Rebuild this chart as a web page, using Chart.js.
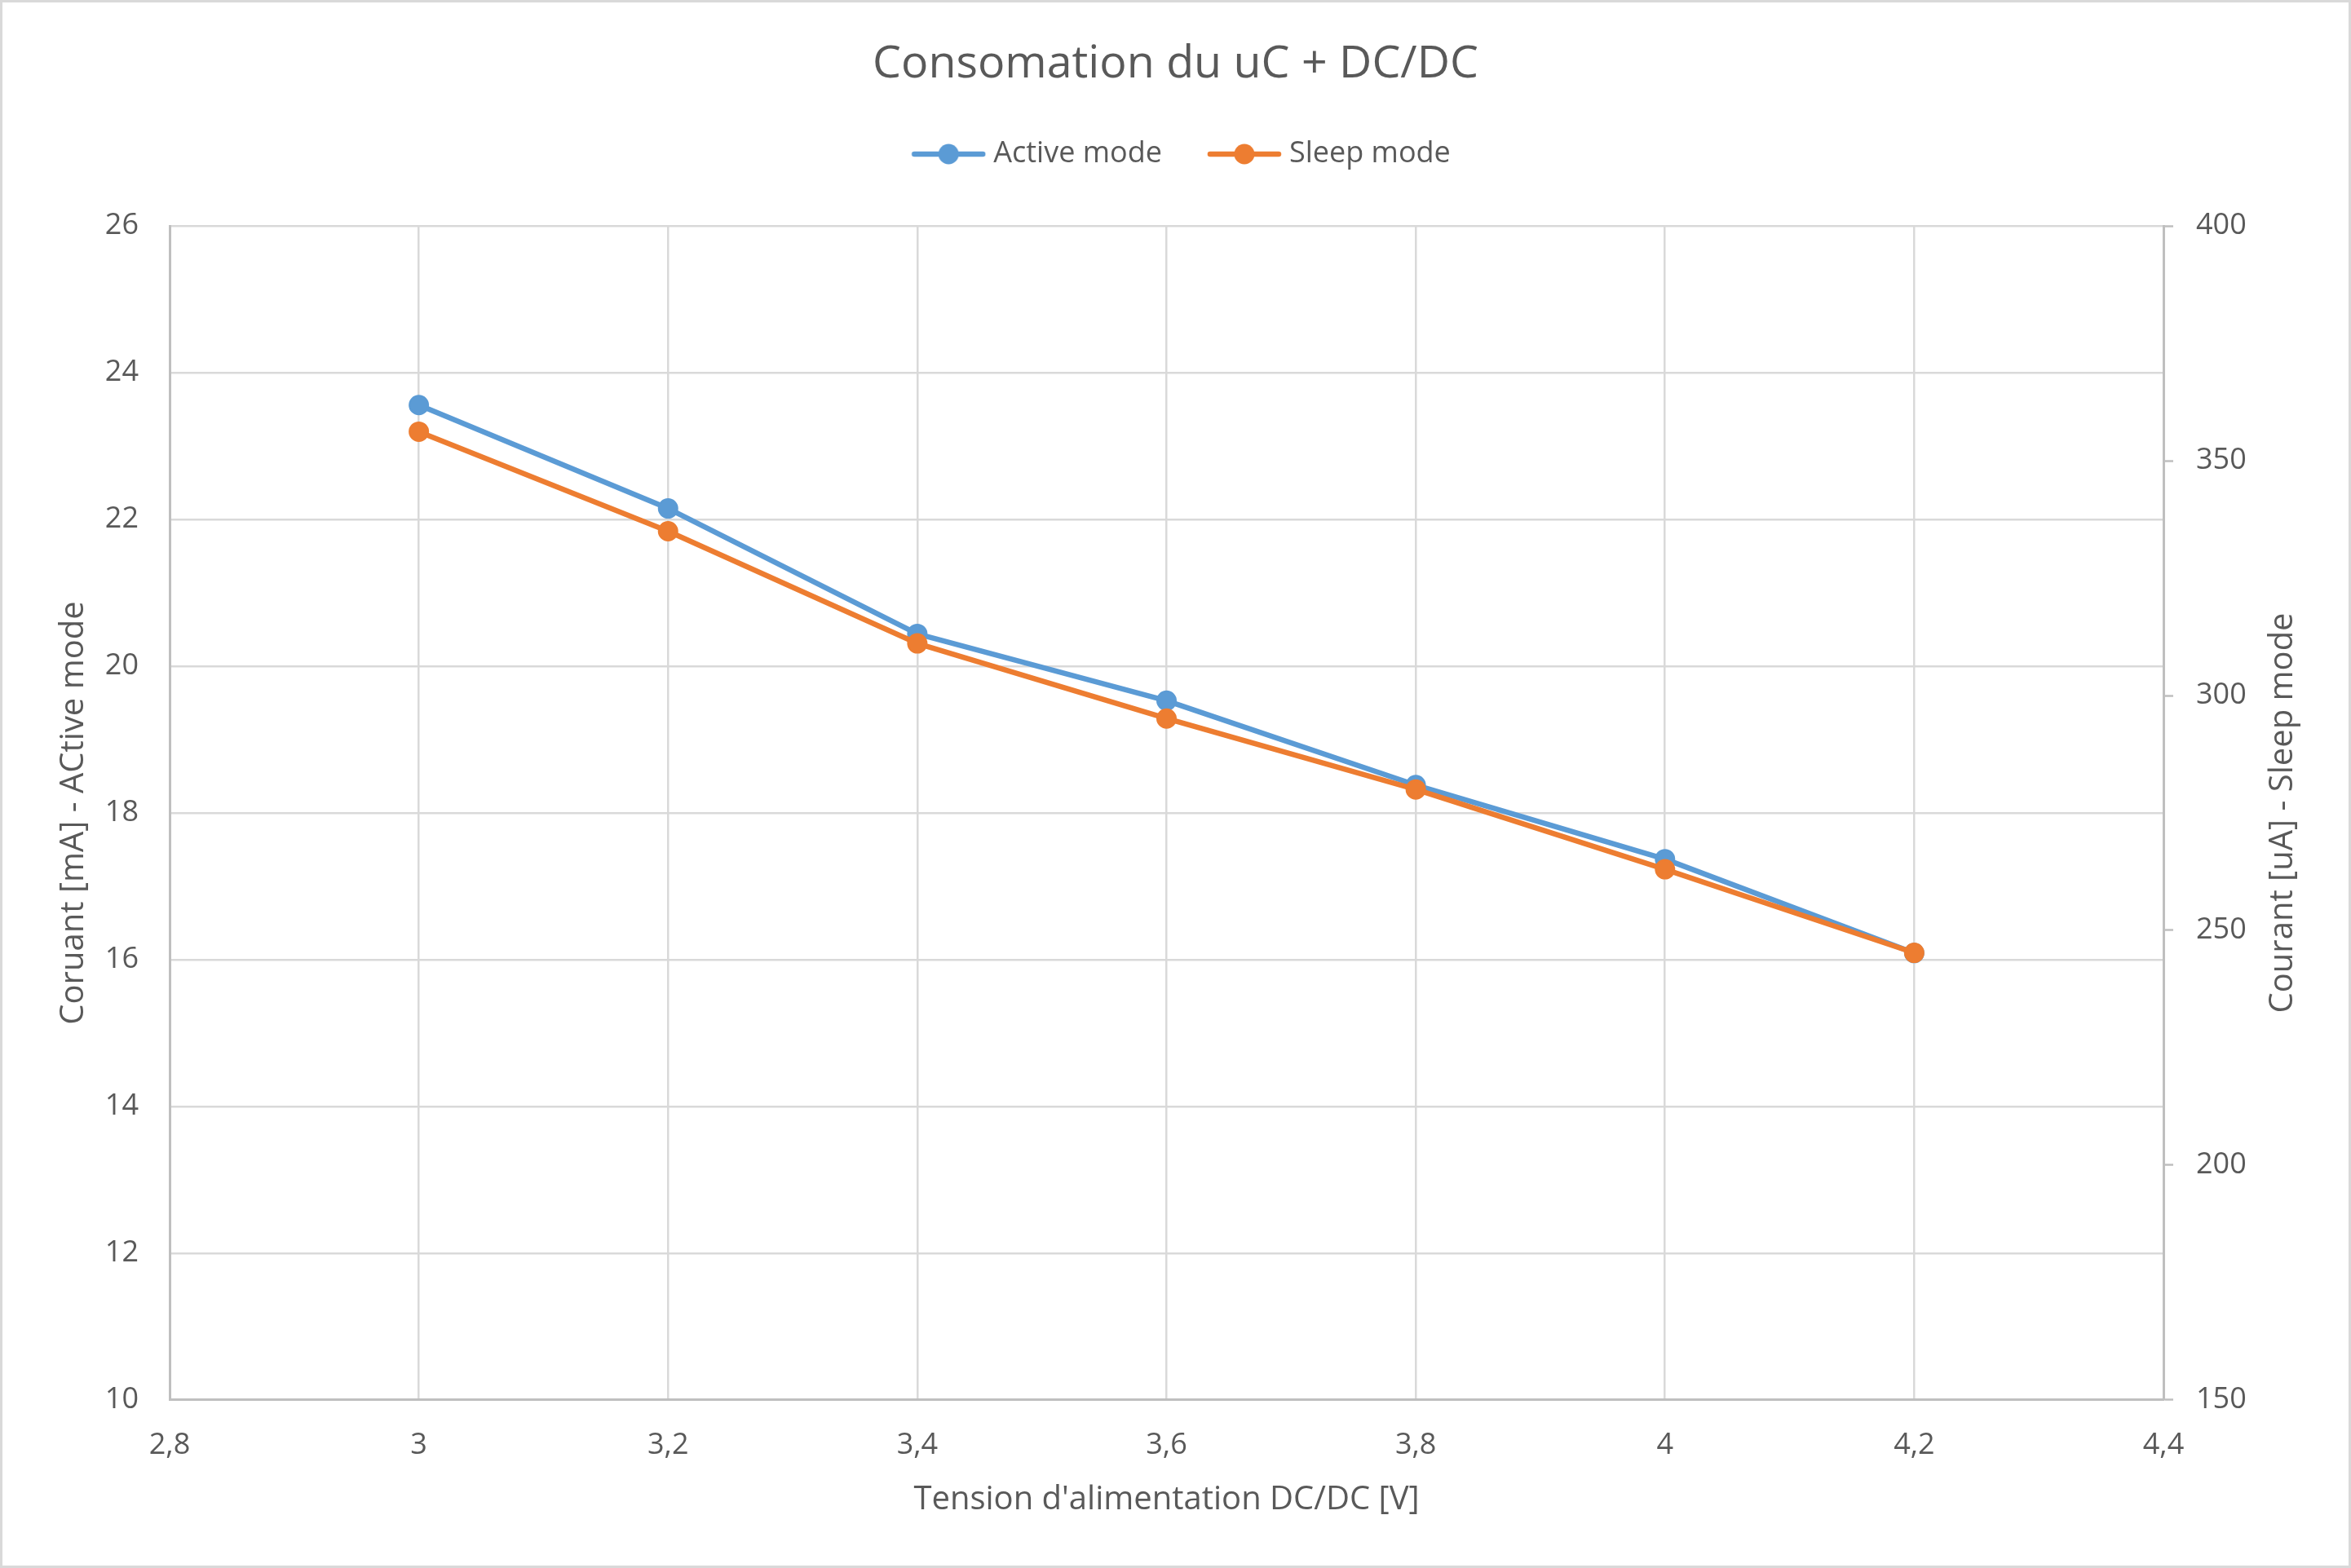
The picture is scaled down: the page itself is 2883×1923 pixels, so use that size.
<!DOCTYPE html>
<html>
<head>
<meta charset="utf-8">
<script src="https://cdn.jsdelivr.net/npm/chart.js@4.4.0/dist/chart.umd.min.js"></script>
<style>
  html, body { margin: 0; padding: 0; background: #ffffff; overflow: hidden; }
  canvas { display: block; }
</style>
</head>
<body>
<canvas id="c" width="2883" height="1923"></canvas>
<script>
// ---- data ----
const chartTitle = 'Consomation du uC + DC/DC';
const xAxisTitle = "Tension d'alimentation DC/DC [V]";
const yAxisTitle = 'Coruant [mA] - ACtive mode';
const y2AxisTitle = 'Courant [uA] - Sleep mode';
const seriesNames = ['Active mode', 'Sleep mode'];
const voltages = [3.0, 3.2, 3.4, 3.6, 3.8, 4.0, 4.2];
const activeMode = [23.56, 22.15, 20.44, 19.53, 18.38, 17.37, 16.09];
const sleepMode = [356.2, 335.0, 311.1, 295.1, 280.0, 263.0, 245.2];
const xTicks = [2.8, 3.0, 3.2, 3.4, 3.6, 3.8, 4.0, 4.2, 4.4];
const yTicks = [10, 12, 14, 16, 18, 20, 22, 24, 26];
const y2Ticks = [150, 200, 250, 300, 350, 400];

// ---- style ----
const W = 2883, H = 1923;
const FONT = "'Open Sans', 'Noto Sans', sans-serif";
const TEXT = '#595959';
const BLUE = '#5B9BD5';
const ORANGE = '#ED7D31';
const GRID = '#d9d9d9';
const AXIS = '#bfbfbf';
const PLOT = { left: 208, right: 2653, top: 276.7, bottom: 1716.7 };
const LEGEND_BOX = 96;

function legendIcon(color) {
  // canvas spans the whole legend box plus 9px on each side; the visible icon sits at its right end
  const c = document.createElement('canvas');
  c.width = LEGEND_BOX + 18; c.height = 28;
  const g = c.getContext('2d');
  const x0 = c.width - 92;
  g.strokeStyle = color; g.lineWidth = 6.5; g.lineCap = 'round';
  g.beginPath(); g.moveTo(x0 + 4, 14); g.lineTo(x0 + 88, 14); g.stroke();
  g.fillStyle = color;
  g.beginPath(); g.arc(x0 + 46, 14, 12.5, 0, Math.PI * 2); g.fill();
  return c;
}
const icons = [legendIcon(BLUE), legendIcon(ORANGE)];

const frame = {
  id: 'frame',
  beforeDraw(chart) {
    const ctx = chart.ctx;
    ctx.save();
    ctx.fillStyle = '#ffffff';
    ctx.fillRect(0, 0, W, H);
    ctx.restore();
  },
  afterDraw(chart) {
    const ctx = chart.ctx, a = chart.chartArea;
    ctx.save();
    ctx.strokeStyle = GRID; ctx.lineWidth = 3;
    ctx.strokeRect(1.5, 1.5, W - 3, H - 3);
    ctx.translate(2800, (a.top + a.bottom) / 2);
    ctx.rotate(-Math.PI / 2);
    ctx.fillStyle = TEXT;
    ctx.font = '40px ' + FONT;
    ctx.textAlign = 'center';
    ctx.textBaseline = 'middle';
    ctx.fillText(y2AxisTitle, 0, 0);
    ctx.restore();
  }
};

const fmt = v => String(Math.round(v * 10) / 10).replace('.', ',');

new Chart(document.getElementById('c'), {
  type: 'line',
  data: {
    datasets: [
      {
        label: seriesNames[0],
        data: voltages.map((x, i) => ({ x, y: activeMode[i] })),
        yAxisID: 'y',
        borderColor: BLUE, backgroundColor: BLUE,
        borderWidth: 6.5, tension: 0,
        borderCapStyle: 'round', borderJoinStyle: 'round',
        pointRadius: 11.5, pointBorderWidth: 2, pointBorderColor: BLUE, pointBackgroundColor: BLUE,
        order: 2
      },
      {
        label: seriesNames[1],
        data: voltages.map((x, i) => ({ x, y: sleepMode[i] })),
        yAxisID: 'y2',
        borderColor: ORANGE, backgroundColor: ORANGE,
        borderWidth: 6.5, tension: 0,
        borderCapStyle: 'round', borderJoinStyle: 'round',
        pointRadius: 11.5, pointBorderWidth: 2, pointBorderColor: ORANGE, pointBackgroundColor: ORANGE,
        order: 1
      }
    ]
  },
  options: {
    responsive: false,
    animation: false,
    devicePixelRatio: 1,
    layout: { padding: 0 },
    plugins: {
      tooltip: { enabled: false },
      title: {
        display: true, text: chartTitle, color: TEXT,
        font: { family: FONT, size: 55.5, weight: 'normal', lineHeight: 1.0 },
        padding: { top: 51.5, bottom: 22 }
      },
      legend: {
        display: true, position: 'top',
        labels: {
          color: TEXT,
          font: { family: FONT, size: 36 },
          usePointStyle: true,
          pointStyleWidth: LEGEND_BOX,
          padding: 42,
          generateLabels: chart => chart.data.datasets.map((ds, i) => ({
            text: ds.label, pointStyle: icons[i], fillStyle: ds.borderColor,
            strokeStyle: ds.borderColor, lineWidth: 0, hidden: false,
            datasetIndex: i, fontColor: TEXT
          }))
        }
      },
      subtitle: {
        display: true, text: '', weight: 500, position: 'top',
        font: { size: 10, lineHeight: 1 },
        padding: { top: 0, bottom: 50.2 }
      }
    },
    scales: {
      x: {
        type: 'linear', position: 'bottom',
        min: xTicks[0], max: xTicks[xTicks.length - 1],
        afterBuildTicks: s => { s.ticks = xTicks.map(v => ({ value: v })); },
        afterFit: s => { s.height = H - PLOT.bottom; },
        ticks: {
          color: TEXT, font: { family: FONT, size: 36 }, padding: 34,
          maxRotation: 0, autoSkip: false, callback: v => fmt(v)
        },
        grid: { color: GRID, lineWidth: 2.5, drawTicks: false },
        border: { display: true, color: AXIS, width: 3 },
        title: {
          display: true, text: xAxisTitle, color: TEXT,
          font: { family: FONT, size: 40 }, padding: { top: 0, bottom: 59 }
        }
      },
      y: {
        type: 'linear', position: 'left',
        min: yTicks[0], max: yTicks[yTicks.length - 1],
        afterBuildTicks: s => { s.ticks = yTicks.map(v => ({ value: v })); },
        afterFit: s => { s.width = PLOT.left; },
        ticks: { color: TEXT, font: { family: FONT, size: 36 }, padding: 38, callback: v => fmt(v) },
        grid: { color: GRID, lineWidth: 2.5, drawTicks: false },
        border: { display: true, color: AXIS, width: 3 },
        title: {
          display: true, text: yAxisTitle, color: TEXT,
          font: { family: FONT, size: 40 }, padding: { top: 67, bottom: 0 }
        }
      },
      y2: {
        type: 'linear', position: 'right',
        min: y2Ticks[0], max: y2Ticks[y2Ticks.length - 1],
        afterBuildTicks: s => { s.ticks = y2Ticks.map(v => ({ value: v })); },
        afterFit: s => { s.width = W - PLOT.right; },
        ticks: { color: TEXT, font: { family: FONT, size: 36 }, padding: 28, callback: v => fmt(v) },
        grid: { drawOnChartArea: false, drawTicks: true, tickLength: 12, tickColor: AXIS, tickWidth: 2.5, color: AXIS },
        border: { display: true, color: AXIS, width: 3 }
      }
    }
  },
  plugins: [frame]
});
</script>
</body>
</html>
